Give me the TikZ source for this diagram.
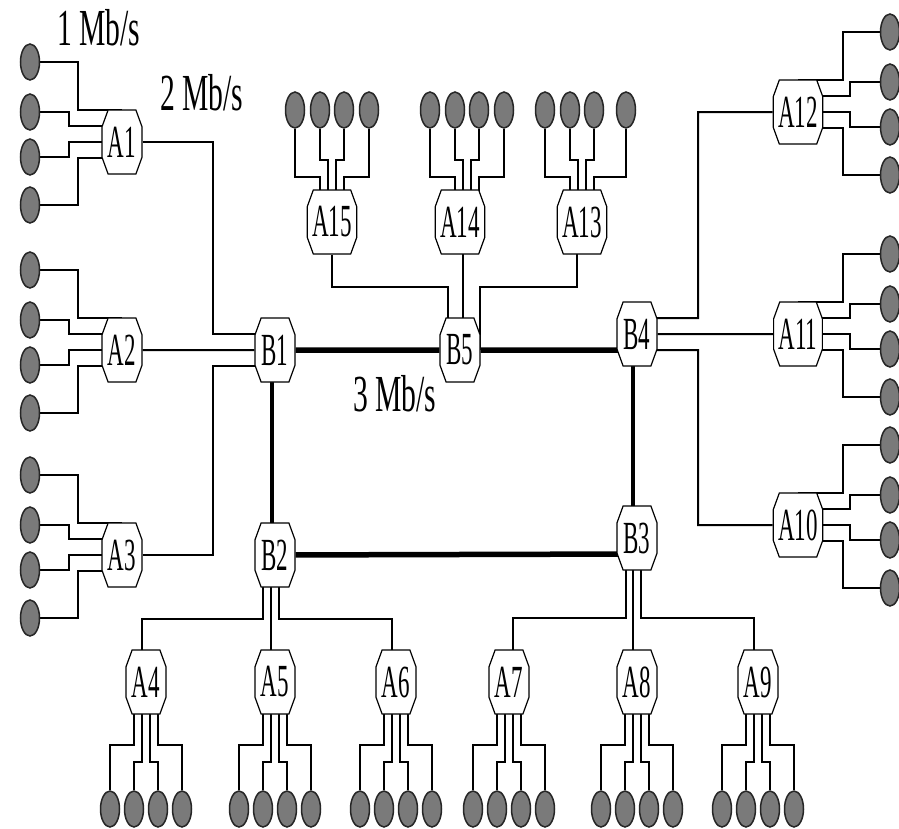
\documentclass[tikz,border=0pt]{standalone}
\usepackage{fontspec}
\setmainfont{Liberation Serif}
\usetikzlibrary{shapes.geometric,shapes.misc,calc,backgrounds}
\newcommand{\narrow}[2][0.5]{\scalebox{#1}[1]{#2}}
\begin{document}
\begin{tikzpicture}[
  x=1pt, y=-1pt,
  router/.style={chamfered rectangle, chamfered rectangle angle=20, chamfered rectangle xsep=5pt,
    draw, fill=white, line width=1.2pt, minimum width=40pt, minimum height=64pt,
    inner sep=0pt, font=\fontsize{46}{46}\selectfont},
  host/.style={ellipse, draw=black!85, fill=black!52, line width=1.5pt,
    minimum width=19pt, minimum height=36pt, inner sep=0pt},
  link/.style={line width=2pt},
  trunk/.style={line width=5.5pt},
  vtrunk/.style={line width=3.5pt},
  rate/.style={font=\fontsize{52}{52}\selectfont, inner sep=0pt, anchor=base west}
]
\useasboundingbox (0,0) rectangle (899,828);

% backbone routers
\node[router] (B1) at (275,350) {\narrow{B1}};
\node[router] (B2) at (275,555) {\narrow{B2}};
\node[router] (B3) at (637,538) {\narrow{B3}};
\node[router] (B4) at (637,334) {\narrow{B4}};
\node[router] (B5) at (460,350) {\narrow{B5}};

% rates
\node[rate] (r1) at (57,45) {\narrow[0.57]{1 Mb/s}};
\node[rate] (r2) at (160,110) {\narrow[0.57]{2 Mb/s}};
\node[rate] (r3) at (353,411) {\narrow[0.57]{3 Mb/s}};

% access routers, left
\foreach \n/\y in {A1/142, A2/350, A3/555} {
  \node[router] (\n) at (122,\y) {\narrow{\n}};
  \foreach \i/\hd/\pd/\ex in {1/-80/-32/-44, 2/-30/-16/-53, 3/15/0/-53, 4/63/16/-44} {
    \node[host] (h\i\n) at ($(\n)+(-92,\hd)$) {};
    \begin{scope}[on background layer]
      \draw[link] (h\i\n) -| ($(\n)+(\ex,\pd)$) -- ($(\n)+(0,\pd)$);
    \end{scope}
  }
}

% access routers, right
\foreach \n/\y in {A12/112, A11/334, A10/525} {
  \node[router] (\n) at (798,\y) {\narrow{\n}};
  \foreach \i/\hd/\pd/\ex in {1/-80/-32/45, 2/-30/-16/52, 3/15/0/52, 4/63/16/45} {
    \node[host] (h\i\n) at ($(\n)+(92,\hd)$) {};
    \begin{scope}[on background layer]
      \draw[link] (h\i\n) -| ($(\n)+(\ex,\pd)$) -- ($(\n)+(0,\pd)$);
    \end{scope}
  }
}

% access routers, top
\foreach \n/\x/\s/\e in {A15/332/0/0, A14/460/7/0, A13/582/0/7} {
  \node[router] (\n) at (\x,222) {\narrow{\n}};
  \foreach \i/\hd/\pd/\ey in {1/-37/-12/-45, 2/-12/-4/-62, 3/12/4/-62, 4/37/12/-45} {
    \node[host] (h\i\n) at ($(\n)+({\hd+\s+(\i==4)*\e},-112)$) {};
    \begin{scope}[on background layer]
      \draw[link] (h\i\n) |- ($(\n)+({\pd+\s},\ey)$) -- ($(\n)+({\pd+\s},0)$);
    \end{scope}
  }
}

% access routers, bottom
\foreach \n/\x in {A4/146, A5/275, A6/396, A7/509, A8/637, A9/758} {
  \node[router] (\n) at (\x,682) {\narrow{\n}};
  \foreach \i/\hd/\pd/\ey in {1/-36/-12/63, 2/-12/-4/80, 3/12/4/80, 4/36/12/63} {
    \node[host] (h\i\n) at ($(\n)+(\hd,127)$) {};
    \begin{scope}[on background layer]
      \draw[link] (h\i\n) |- ($(\n)+(\pd,\ey)$) -- ($(\n)+(\pd,0)$);
    \end{scope}
  }
}

\begin{scope}[on background layer]
  % backbone
  \draw[trunk] (B1) -- (B5);
  \draw[trunk] (B5) -- ($(B4)+(0,16)$);
  \draw[trunk] (B2) -- ($(B3)+(0,16)$);
  \draw[vtrunk] ($(B1)+(-3,0)$) -- ($(B2)+(-3,0)$);
  \draw[vtrunk] ($(B4)+(-4,0)$) -- ($(B3)+(-4,0)$);
  % left
  \draw[link] (A1) -| ($(B1)+(-62,-16)$) -- ($(B1)+(0,-16)$);
  \draw[link] (A2) -- (B1);
  \draw[link] (A3) -| ($(B1)+(-62,16)$) -- ($(B1)+(0,16)$);
  % right
  \draw[link] ($(B4)+(0,-16)$) -| ($(A12)+(-100,0)$) -- (A12);
  \draw[link] (B4) -- (A11);
  \draw[link] ($(B4)+(0,16)$) -| ($(A10)+(-100,0)$) -- (A10);
  % top
  \draw[link] (A15) |- ($(B5)+(-12,-63)$) -- ($(B5)+(-12,0)$);
  \draw[link] ($(A14)+(3,0)$) -- ($(B5)+(3,0)$);
  \draw[link] ($(A13)+(-5,0)$) |- ($(B5)+(20,-63)$) -- ($(B5)+(20,0)$);
  % bottom
  \draw[link] ($(B2)+(-12,0)$) |- ($(A4)+(-4,-63)$) -- ($(A4)+(-4,0)$);
  \draw[link] ($(B2)+(-4,0)$) -- ($(A5)+(-4,0)$);
  \draw[link] ($(B2)+(4,0)$) |- ($(A6)+(-4,-63)$) -- ($(A6)+(-4,0)$);
  \draw[link] ($(B3)+(-11,0)$) |- ($(A7)+(4,-64)$) -- ($(A7)+(4,0)$);
  \draw[link] ($(B3)+(-4,0)$) -- ($(A8)+(-4,0)$);
  \draw[link] ($(B3)+(4,0)$) |- ($(A9)+(-4,-64)$) -- ($(A9)+(-4,0)$);
\end{scope}
\end{tikzpicture}
\end{document}
